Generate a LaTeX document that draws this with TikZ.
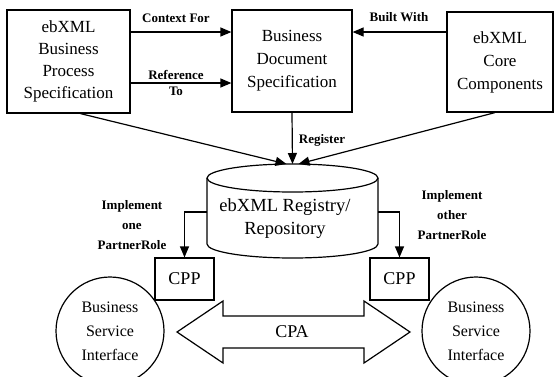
\documentclass[tikz,border=0pt]{standalone}
\usepackage{fontspec}
\setmainfont{Liberation Serif}
\usetikzlibrary{arrows.meta}
\usetikzlibrary{calc}

\tikzset{
	box/.style={draw, line width=1.2pt, align=center, inner sep=0pt, font=\fontsize{17}{23}\selectfont},
	lbl/.style={align=center, inner sep=0pt, font=\bfseries\fontsize{13}{20}\selectfont},
	arr/.style={line width=1.2pt, -{Triangle[length=11pt,width=9pt]}},
}

\begin{document}
\begin{tikzpicture}[x=1pt,y=-1pt]
								\useasboundingbox (0,0) rectangle (555,376);
								\clip (0,0) rectangle (555,376);

								\def\cylrx{85.5}
								\def\cylry{14}

								% top row of specifications
								\node[box, minimum width=123pt, minimum height=103pt, font=\fontsize{17}{22}\selectfont] (bps) at (68.5,61.5) {ebXML\\Business\\Process\\Specification};
								\node[box, minimum width=120pt, minimum height=102pt] (bds) at (292,61) {Business\\Document\\Specification};
								\node[box, minimum width=106pt, minimum height=100pt] (bcc) at (500,62) {ebXML\\Core\\Components};

								\draw[arr] ([yshift=29.5pt]bps.east) -- ([yshift=29.5pt]bps.east -| bds.west);
								\draw[arr] ([yshift=-21.5pt]bps.east) -- ([yshift=-21.5pt]bps.east -| bds.west);
								\draw[arr] ([yshift=30pt]bcc.west) -- ([yshift=30pt]bcc.west -| bds.east);

								\node[lbl] (ctxlbl) at (176,18) {Context For};
								\node[lbl, font=\bfseries\fontsize{13}{16}\selectfont] (reflbl) at (176,83) {Reference\\To};
								\node[lbl] (bltlbl) at (399,17) {Built With};

								% registry
								\coordinate (regtop) at (292.5,164);
								\coordinate (cylL) at (207,212);
								\coordinate (cylR) at (378,212);
								\draw[line width=1.2pt] (207,178) -- (207,244) arc[start angle=180, end angle=0, x radius=\cylrx, y radius=\cylry] -- (378,178);
								\draw[line width=1.2pt] (292.5,178) ellipse[x radius=\cylrx, y radius=\cylry];
								\node[align=center, inner sep=0pt, font=\fontsize{18.5}{23}\selectfont] (reg) at (285,219) {ebXML Registry/\\Repository};

								\draw[arr] (bds.south) -- (regtop);
								\draw[arr] ([xshift=12pt]bps.south) -- ([xshift=-6pt]regtop);
								\draw[arr] ([xshift=-5pt]bcc.south) -- ([xshift=6pt]regtop);
								\node[lbl] (reglbl) at (322,140) {Register};

								% partner profiles
								\node[box, minimum width=59pt, minimum height=42pt, font=\fontsize{18}{20}\selectfont] (cppL) at (184.5,279) {CPP};
								\node[box, minimum width=59pt, minimum height=42pt, font=\fontsize{18}{20}\selectfont] (cppR) at (399.5,279) {CPP};
								\draw[arr] (cylL) -| (cppL.north);
								\draw[arr] (cylR) -| (cppR.north);
								\node[lbl] (implL) at (132,225) {Implement\\one\\PartnerRole};
								\node[lbl] (implR) at (452,215) {Implement\\other\\PartnerRole};

								% service interfaces
								\node[box, circle, minimum size=108pt, font=\fontsize{16}{24}\selectfont] (bsiL) at (110,331) {Business\\Service\\Interface};
								\node[box, circle, minimum size=108pt, font=\fontsize{16}{24}\selectfont] (bsiR) at (476,331) {Business\\Service\\Interface};

								\draw[line width=1.2pt] (177,332) -- (223,301) -- (223,316) -- (364,316) -- (364,301) -- (410,332)
									-- (364,363) -- (364,348) -- (223,348) -- (223,363) -- cycle;
								\node[font=\fontsize{18}{20}\selectfont, inner sep=0pt] (cpa) at (292,332) {CPA};
							\end{tikzpicture}
\end{document}
